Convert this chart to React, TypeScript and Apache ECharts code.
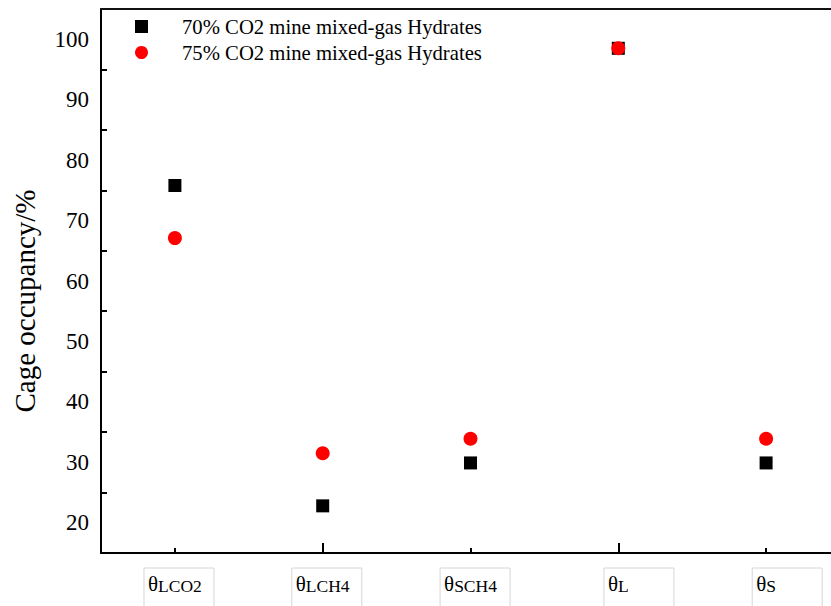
import React, { useEffect, useRef } from "react";
import * as echarts from "echarts";

const categories = ["LCO2", "LCH4", "SCH4", "L", "S"];
const series70 = [75.8, 22.8, 29.9, 98.5, 29.9];
const series75 = [67.1, 31.5, 33.9, 98.5, 33.9];
const seriesNames = ["70% CO2 mine mixed-gas Hydrates", "75% CO2 mine mixed-gas Hydrates"];
const yLabelValues = [20, 30, 40, 50, 60, 70, 80, 90, 100];
const yTickValues = [25, 35, 45, 55, 65, 75, 85, 95];
const yMin = 15;
const yMax = 105;
const yName = "Cage occupancy/%";

const FONT = "Liberation Serif, Times New Roman, serif";

export default function App() {
  const ref = useRef<HTMLDivElement>(null);
  useEffect(() => {
    if (!ref.current) return;
    const chart = echarts.init(ref.current, null, { renderer: "svg" });
    const option: any = {
      animation: false,
      backgroundColor: "#fff",
      textStyle: { fontFamily: FONT },
      grid: {
        left: 101,
        width: 739,
        top: 9,
        bottom: 53,
        outerBoundsMode: "none",
        containLabel: false,
        show: false,
      },
      legend: {
        orient: "vertical",
        left: 130,
        top: 11,
        itemWidth: 13,
        itemHeight: 13,
        itemGap: 5,
        textStyle: { fontSize: 20.7, color: "#000", fontFamily: FONT, padding: [0, 0, 0, 29] },
        data: seriesNames,
      },
      xAxis: [
        {
          type: "category",
          data: categories,
          position: "bottom",
          axisLine: { lineStyle: { color: "#000", width: 2 } },
          axisTick: { show: true, inside: true, length: 5, alignWithLabel: true, lineStyle: { color: "#000", width: 2 } },
          axisLabel: {
            margin: 20,
            fontFamily: FONT,
            formatter: (v: string) => `{t|θ}{s|${v}}`,
            rich: {
              t: { fontSize: 21, lineHeight: 22, verticalAlign: "top", fontFamily: FONT, color: "#000" },
              s: { fontSize: 17.5, lineHeight: 18, verticalAlign: "bottom", padding: [10, 0, 0, 0], fontFamily: FONT, color: "#000" },
            },
          },
          splitLine: { show: false },
        },
        {
          type: "category",
          data: categories,
          position: "bottom",
          axisLine: { show: false },
          axisLabel: { show: false },
          axisTick: {
            show: true,
            inside: true,
            length: 10,
            alignWithLabel: true,
            interval: (i: number) => i % 2 === 1,
            lineStyle: { color: "#000", width: 2 },
          },
          splitLine: { show: false },
        },
        {
          type: "category",
          data: categories,
          position: "top",
          axisLine: { show: true, lineStyle: { color: "#111", width: 2 } },
          axisLabel: { show: false },
          axisTick: { show: false },
          splitLine: { show: false },
        },
      ],
      yAxis: {
        type: "value",
        min: yMin,
        max: yMax,
        name: yName,
        nameLocation: "middle",
        nameGap: 62,
        nameTextStyle: { fontSize: 29, color: "#000", fontFamily: FONT, padding: [0, 40, 0, 0] },
        axisLine: { show: true, lineStyle: { color: "#000", width: 2 } },
        axisTick: { show: true, inside: true, length: 6, customValues: yTickValues, lineStyle: { color: "#000", width: 2 } },
        axisLabel: { customValues: yLabelValues, fontSize: 23, color: "#000", margin: 12, fontFamily: FONT },
        splitLine: { show: false },
      },
      series: [
        {
          name: seriesNames[0],
          type: "scatter",
          symbol: "rect",
          symbolSize: 13,
          itemStyle: { color: "#000", opacity: 1 },
          data: series70,
          z: 2,
        },
        {
          name: seriesNames[1],
          type: "scatter",
          symbol: "circle",
          symbolSize: 14,
          itemStyle: { color: "#ff0000", opacity: 1 },
          data: series75,
          z: 3,
        },
      ],
    };
    chart.setOption(option);

    const canvas = document.createElement("canvas");
    const ctx = canvas.getContext("2d")!;
    const measure = (txt: string, size: number) => {
      ctx.font = `${size}px "Liberation Serif"`;
      return ctx.measureText(txt).width;
    };
    const axisY = chart.convertToPixel({ yAxisIndex: 0 }, yMin) as number;
    const topY = chart.convertToPixel({ yAxisIndex: 0 }, yMax) as number;
    const rects: any[] = categories.map((c, i) => {
      const x = chart.convertToPixel({ xAxisIndex: 0 }, i) as number;
      const w = measure("θ", 21) + measure(c, 17.5);
      return {
        type: "rect",
        shape: { x: x - w / 2 - 4, y: axisY + 15, width: 70, height: 50 },
        style: { fill: "none", stroke: "#d6d6d6", lineWidth: 1 },
        z: -1,
        silent: true,
      };
    });
    const cw = chart.getWidth();
    rects.push({
      type: "rect",
      shape: { x: cw - 5, y: topY + 1.5, width: 6, height: axisY - topY - 3 },
      style: { fill: "#fff", stroke: "none" },
      z: 1000,
      silent: true,
    });
    chart.setOption({ graphic: rects });

    return () => chart.dispose();
  }, []);
  return <div ref={ref} style={{ width: 831, height: 606, position: "absolute", left: 0, top: 0, overflow: "hidden" }} />;
}
